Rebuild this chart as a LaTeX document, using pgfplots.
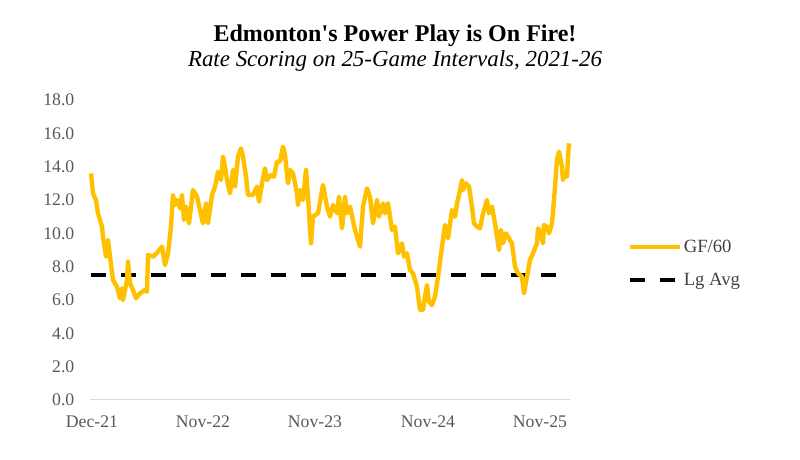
\documentclass[border=0pt]{standalone}
\usepackage{pgfplots}
\pgfplotsset{compat=1.18}
\usepackage{fontspec}
\setmainfont{Liberation Serif}
\definecolor{gold}{HTML}{FFC000}
\definecolor{ticktext}{HTML}{595959}
\definecolor{legtext}{HTML}{404040}
\definecolor{baseline}{HTML}{D9D9D9}

\begin{document}
\begin{tikzpicture}
\useasboundingbox (0,0) rectangle (600pt,345pt);
\node[anchor=base,font=\fontsize{18}{21}\selectfont\bfseries] at (296.25pt,313.5pt) {Edmonton\textquotesingle s Power Play is On Fire!};
\node[anchor=base,font=\fontsize{17.2}{20}\selectfont\itshape] at (296.25pt,294.75pt) {Rate Scoring on 25-Game Intervals, 2021-26};
\begin{axis}[
  at={(67.5pt,45pt)}, anchor=south west,
  scale only axis, width=360pt, height=225pt,
  xmin=90, xmax=570, ymin=0, ymax=18,
  axis lines=left,
  x axis line style={draw=baseline, line width=0.75pt, -},
  y axis line style={draw=none},
  major tick length=0pt,
  ytick={0,2,...,18},
  /pgf/number format/assume math mode=true,
  xtick={92,203,315,428,540},
  xticklabels={Dec-21,Nov-22,Nov-23,Nov-24,Nov-25},
  tick label style={font=\fontsize{13.3}{15}\selectfont, text=ticktext},
  yticklabel style={/pgf/number format/fixed, /pgf/number format/fixed zerofill,
    /pgf/number format/precision=1, xshift=-8.2pt},
  xticklabel style={yshift=-8.5pt},
  legend style={at={(1.119,0.455)}, anchor=west, draw=none, fill=none,
    font=\fontsize{14}{16}\selectfont, text=legtext, row sep=11pt,
    inner sep=0pt, nodes={inner sep=1.5pt}},
  legend cell align=left,
  legend image code/.code={\draw[#1] (0pt,0pt) -- (37.5pt,0pt);},
  clip=false,
]
% league average
\addplot[black, line width=2.6pt, dash pattern=on 11.25pt off 11.25pt, forget plot]
  coordinates {(91,7.5) (560,7.5)};
% GF/60 over 25-game windows
\addplot[gold, line width=3.3pt, line join=round]
  coordinates {
(91,13.6)(93,12.4)(96,12.0)(98,11.2)(102,10.4)(103,9.8)(106,8.6)(108,9.6)(110,8.6)
(113,7.2)(117,6.8)(120,6.1)(122,6.7)(123,6.0)(127,7.2)(128,8.3)(130,7.0)(133,6.6)
(136,6.1)(140,6.4)(145,6.6)(147,6.5)(148,8.7)(153,8.6)(158,8.9)(162,9.2)(165,8.1)
(168,8.8)(171,10.4)(173,12.3)(175,11.7)(177,12.0)(180,11.5)(182,12.3)(184,10.8)
(186,11.6)(189,10.6)(193,12.6)(197,12.2)(200,11.4)(203,10.6)(206,11.8)(208,10.6)
(212,12.3)(215,12.8)(218,13.7)(221,13.2)(223,14.6)(225,14.0)(227,13.2)(230,12.4)
(233,13.8)(235,12.8)(238,14.6)(241,15.1)(243,14.6)(246,13.4)(248,12.3)(253,12.3)
(257,12.8)(259,11.9)(262,13.0)(265,13.9)(267,13.2)(271,13.5)(274,13.4)(277,14.3)
(280,14.3)(283,15.2)(285,14.7)(288,13.0)(290,13.8)(293,13.6)(297,12.4)(298,11.7)
(300,12.6)(303,12.0)(306,13.8)(308,12.2)(311,9.4)(313,11.0)(318,11.2)(323,12.9)
(327,11.6)(330,11.0)(333,11.7)(337,11.2)(339,12.2)(342,10.3)(345,12.2)(347,11.2)
(350,11.6)(355,10.2)(360,9.2)(363,11.6)(367,12.7)(370,12.2)(373,10.6)(377,12.0)
(379,11.0)(383,11.8)(385,11.2)(388,11.8)(392,10.2)(395,10.4)(398,8.8)(402,9.4)
(404,8.6)(407,8.8)(410,7.8)(413,7.6)(417,6.8)(420,5.4)(423,5.4)(425,6.2)(427,6.9)
(429,5.9)(432,5.7)(435,6.2)(438,7.4)(442,9.2)(445,10.5)(448,9.7)(452,11.4)(455,11.0)
(457,11.8)(459,12.3)(462,13.2)(463,12.6)(466,13.0)(469,12.8)(472,11.6)(474,10.6)
(477,10.4)(480,10.3)(483,11.2)(485,11.6)(487,12.0)(489,11.2)(492,11.6)(495,10.6)
(497,9.8)(499,9.0)(501,10.2)(503,9.4)(506,10.0)(508,9.8)(512,9.4)(515,8.0)(518,7.6)
(522,7.4)(524,6.4)(527,7.4)(530,8.4)(533,8.8)(537,9.4)(538,10.3)(541,10.0)(543,9.4)
(544,10.5)(547,10.4)(549,10.0)(552,10.6)(554,12.0)(557,14.4)(559,14.9)(562,14.0)
(563,13.2)(565,13.6)(567,13.4)(568,14.6)(569,15.4)
  };
\addlegendentry{GF/60}
\addlegendimage{black, line width=2.6pt, dash pattern=on 11.25pt off 11.25pt}
\addlegendentry{Lg Avg}
\end{axis}
\end{tikzpicture}
\end{document}
